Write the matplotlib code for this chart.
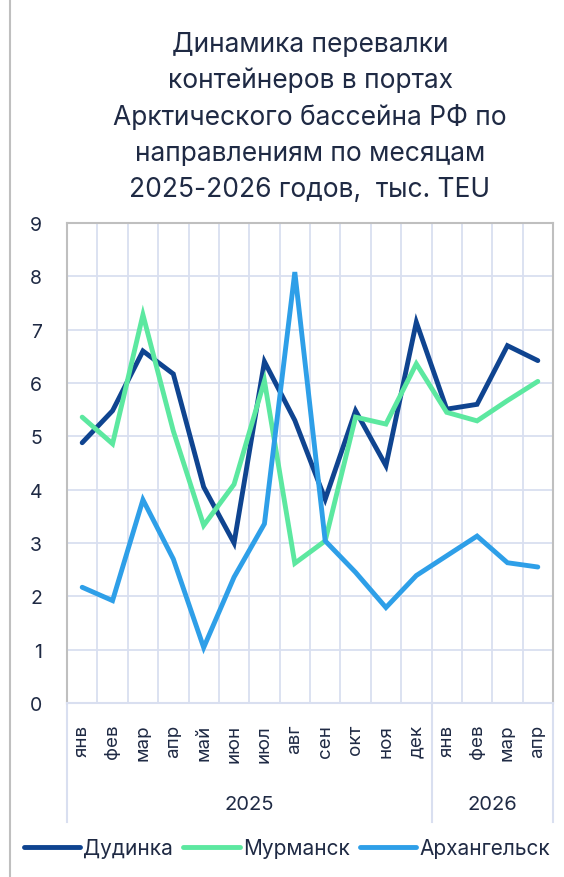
import matplotlib
matplotlib.use("Agg")
import matplotlib.pyplot as plt
import matplotlib.transforms as mtransforms
from matplotlib.lines import Line2D

plt.rcParams["font.family"] = ["Inter", "DejaVu Sans"]

# Data (thousand TEU)
months = ["янв", "фев", "мар", "апр", "май", "июн", "июл", "авг",
          "сен", "окт", "ноя", "дек", "янв", "фев", "мар", "апр"]
years = ["2025", "2026"]
year_counts = [12, 4]

dudinka = [4.88, 5.48, 6.60, 6.17, 4.05, 3.00, 6.40, 5.30,
           3.82, 5.48, 4.45, 7.14, 5.51, 5.60, 6.70, 6.42]
murmansk = [5.36, 4.86, 7.28, 5.10, 3.33, 4.10, 6.04, 2.62,
            3.04, 5.36, 5.23, 6.36, 5.45, 5.29, 5.67, 6.03]
arkhangelsk = [2.17, 1.92, 3.81, 2.70, 1.04, 2.36, 3.36, 8.08,
               3.04, 2.45, 1.79, 2.39, 2.76, 3.13, 2.63, 2.55]

series = [("Дудинка", dudinka, "#0F4490"),
          ("Мурманск", murmansk, "#5CE8A0"),
          ("Архангельск", arkhangelsk, "#2E9FE8")]

title_lines = ["Динамика перевалки", "контейнеров в портах",
               "Арктического бассейна РФ по", "направлениям по месяцам",
               "2025-2026 годов,  тыс. TEU"]

text_color = "#1F2A44"
grid_color = "#D9DFF0"
border_color = "#BFBFBF"

W, H = 564, 878
fig = plt.figure(figsize=(W / 100, H / 100), dpi=100)

# outer frame (only left edge visible in reference)
fig.add_artist(Line2D([10 / W, 10 / W], [0, 1], color=border_color, lw=1.5))

# Title
for i, line in enumerate(title_lines):
    fig.text(310 / W, 1 - (45 + i * 36.3) / H, line, ha="center", va="center",
             fontsize=19, color=text_color)

ax = fig.add_axes([67 / W, (H - 704) / H, (553 - 67) / W, (704 - 224) / H])
x = list(range(len(months)))

for name, vals, color in series:
    ax.plot(x, vals, color=color, lw=3.5, label=name,
            solid_capstyle="round", solid_joinstyle="miter", zorder=3)

ax.set_xlim(-0.5, len(months) - 0.5)
ax.set_ylim(0, 9)
ax.set_yticks(range(0, 10))
ax.set_xticks(x)
ax.set_xticklabels(months, rotation=90, fontsize=13.5, color=text_color)
ax.set_xticks([i + 0.5 for i in range(len(months) - 1)], minor=True)
ax.tick_params(axis="x", which="both", length=0, pad=15)
ax.tick_params(axis="y", length=0, pad=18, labelsize=14, labelcolor=text_color)
ax.grid(axis="y", color=grid_color, lw=1.3)
ax.grid(axis="x", which="minor", color=grid_color, lw=1.3)
ax.set_axisbelow(True)

for s in ["top", "right", "left"]:
    ax.spines[s].set_color(border_color)
    ax.spines[s].set_linewidth(1.5)
ax.spines["bottom"].set_color(grid_color)
ax.spines["bottom"].set_linewidth(1.5)

# multi-level year axis
trans = mtransforms.blended_transform_factory(ax.transData, ax.transAxes)
y_bottom = -(823 - 704) / 480
start = -0.5
bounds = [start]
for yr, n in zip(years, year_counts):
    ax.text(start + n / 2, -(805 - 704) / 480, yr, transform=trans,
            ha="center", va="center", fontsize=14.5, color=text_color)
    start += n
    bounds.append(start)
for b in bounds:
    ax.plot([b, b], [0, y_bottom], transform=trans, color=grid_color,
            lw=1.5, clip_on=False)

# Legend
fig.legend(loc="center", bbox_to_anchor=(287 / W, 1 - 849 / H), ncol=3,
           frameon=False, fontsize=15, handlelength=2.7, handletextpad=0.15,
           columnspacing=0.5, labelcolor=text_color)

fig.savefig("out.png", dpi=100)
